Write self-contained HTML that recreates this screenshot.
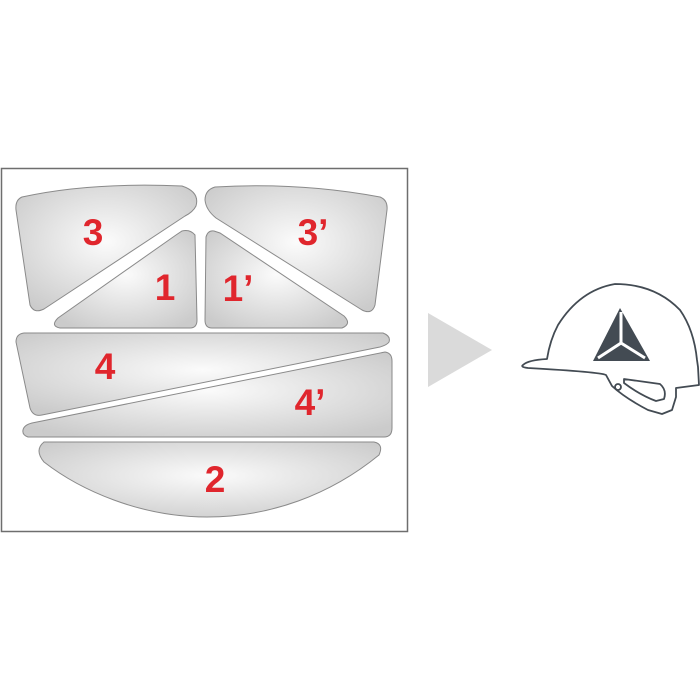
<!DOCTYPE html>
<html><head><style>
html,body{margin:0;padding:0;background:#fff;}
svg{display:block}
text{font-family:"Liberation Sans",sans-serif;font-weight:bold;fill:#e0262d;font-size:37px;text-anchor:middle}
</style></head><body>
<svg width="700" height="700" viewBox="0 0 700 700" xmlns="http://www.w3.org/2000/svg">
<defs>
<radialGradient id="g" cx="50%" cy="45%" r="65%">
<stop offset="0" stop-color="#fbfbfb"/><stop offset="1" stop-color="#cbcbcb"/>
</radialGradient>
</defs>
<rect x="1.5" y="168.5" width="406" height="363" fill="#fff" stroke="#6e6e6e" stroke-width="1.5"/>
<g fill="url(#g)" stroke="#8a8a8a" stroke-width="1">
<path d="M22,197 Q90,182 182,186 Q200,192 196,206 Q193,212 185,216 L44,309 Q34,314 30,305 L16,210 Q15,200 22,197 Z"/>
<path d="M182,231 Q190,229 195,235 L197,320 Q197,328 190,328 L60,328 Q50,326 58,318 L176,235 Z"/>
<path d="M214,231 Q208,230 206,237 L205,320 Q205,328 212,328 L342,328 Q352,324 344,316 L220,233 Z"/>
<path d="M215,187 Q300,182 380,197 Q388,200 387,210 L375,305 Q372,315 362,310 L216,218 Q206,210 205,200 Q205,190 215,187 Z"/>
<path d="M24,333 L383,333 Q391,336 389,342 Q387,345 380,347 L42,415 Q33,417 30,408 L16,342 Q16,334 24,333 Z"/>
<path d="M385,352 Q392,353 392,361 L392,428 Q392,437 384,437 L28,437 Q22,435 23,430 Q24,425 32,423 Z"/>
<path d="M44,442 L374,442 Q384,444 379,455 C330,495 270,517 207,517 C140,517 80,490 44,462 Q34,450 44,442 Z"/>
</g>
<text x="93" y="245">3</text>
<text x="165" y="300">1</text>
<text x="238" y="301">1’</text>
<text x="313" y="245">3’</text>
<text x="105" y="379">4</text>
<text x="310" y="415">4’</text>
<text x="215" y="492">2</text>
<polygon points="428,313 492,350 428,387" fill="#dadada"/>
<g fill="none" stroke="#434b53" stroke-width="1.8" stroke-linejoin="round">
<path d="M523,365 Q528,360 547,359 Q550,340 558,325 Q580,290 615,284 Q655,284 680,310 Q694,330 697,360 L698,367 L699,385 L676,388 L676,397 L672,410 L662,414 L648,410 Q625,398 612,386 L606,375 Q600,372 528,368 Q520,367 523,365 Z"/>
<path d="M624,379 L660,384 Q667,390 664,399 L656,401 Q640,395 624,383 Z"/>
<circle cx="618" cy="387" r="3"/>
</g>
<polygon points="620,308 593,361 650,361" fill="#434b53"/>
<g stroke="#fff" stroke-width="3" fill="none">
<path d="M621,312 L621,343 L598,358 M621,343 L645,358"/>
</g>
</svg>
</body></html>
